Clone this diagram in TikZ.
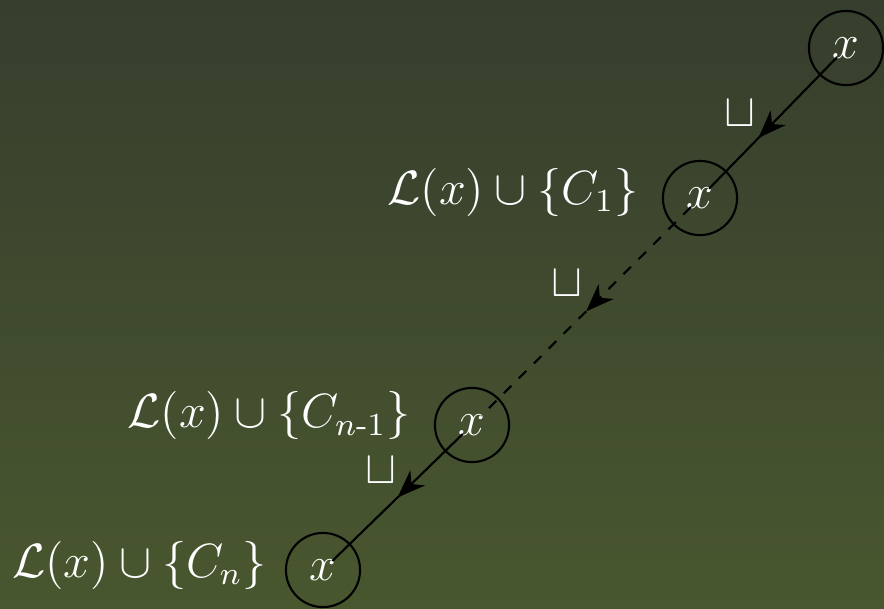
\documentclass[tikz,border=0pt]{standalone}
\usepackage{amsmath,amssymb}
\usepackage{xcolor}
\usepackage{tikz}
\usetikzlibrary{positioning, calc, arrows.meta, decorations.markings}

\definecolor{bgtop}{RGB}{54,62,45}
\definecolor{bgbot}{RGB}{73,87,47}

\begin{document}
\begin{tikzpicture}[
    x=0.01cm, y=-0.01cm,
    >={Stealth[length=8pt, width=6pt, inset=2.5pt]},
    every node/.style={text=white, font=\large, scale=1.14},
    ring/.style={circle, draw=black, line width=0.6pt, minimum size=6.5mm, inner sep=0pt},
    tag/.style={scale=1.1/1.14, inner sep=0.5pt},
    flow/.style={line width=0.6pt, shorten <=1.3mm, shorten >=1.3mm,
        postaction={decorate}},
    mid/.style={decoration={markings, mark=at position #1 with {\arrow{>}}}}
]

% ==========================================
% 1. Background
% ==========================================
\shade[top color=bgtop, bottom color=bgbot] (0,0) rectangle (884,608);
\useasboundingbox (0,0) rectangle (884,608);

% ==========================================
% 2. Nodes x
% ==========================================
\node[ring] (xTop) at (846,48) {$x$};
\node[ring] (xOne) at (700,198) {$x$};
\node[ring] (xPre) at (472,425) {$x$};
\node[ring] (xLast) at (323,570) {$x$};

% labels left of the nodes
\node[left=0.9mm of xOne, yshift=0.5mm] (labOne) {$\mathcal{L}(x)\cup\{C_1\}$};
\node[left=0.9mm of xPre, yshift=0.8mm] (labPre) {$\mathcal{L}(x)\cup\{C_{n\text{-}1}\}$};
\node[left=0.4mm of xLast, yshift=0.4mm] (labLast) {$\mathcal{L}(x)\cup\{C_n\}$};

% ==========================================
% 3. Edges with arrow in the middle
% ==========================================
\draw[flow, mid=0.6] (xTop.center) -- (xOne.center)
    node[tag, pos=0.6, xshift=-1.7mm, yshift=2.2mm] (cupOne) {$\sqcup$};
\draw[flow, dashed, mid=0.5] (xOne.center) -- (xPre.center)
    node[tag, pos=0.5, xshift=-1.7mm, yshift=2.5mm] (cupTwo) {$\sqcup$};
\draw[flow, mid=0.5] (xPre.center) -- (xLast.center)
    node[tag, pos=0.5, xshift=-1.5mm, yshift=2.4mm] (cupThree) {$\sqcup$};

\end{tikzpicture}
\end{document}
